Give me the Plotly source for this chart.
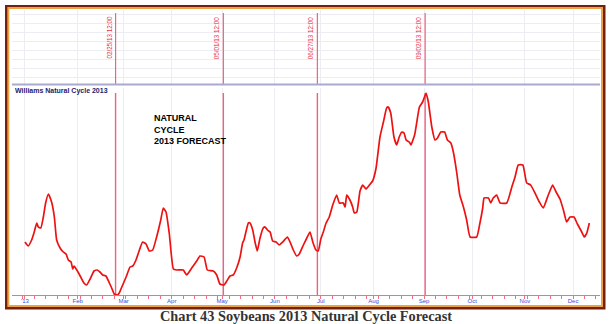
import pandas as pd
import plotly.graph_objects as go

# ---- data ----
# trading-day number counted from 2013-01-01 (weekends skipped), and cycle index value
trading_day = [0, 1.4, 2.9, 3.9, 5.1, 5.8, 6.9, 8.0, 9.0, 10.2, 11.6, 12.8, 13.8, 15.3, 16.7, 17.9,
               18.9, 20.1, 20.8, 21.4, 22.6, 24.3, 25.7, 26.9, 28.4, 30.1, 31.5, 32.7, 33.9, 35.3,
               36.8, 37.8, 38.9, 40.3, 41.1, 42.6, 44.1, 45.8, 47.0, 48.4, 49.9, 51.3, 52.8, 54.2,
               55.7, 57.4, 59.2, 60.3, 61.5, 62.9, 64.7, 66.2, 69.0, 70.5, 72.7, 74.9, 76.3, 78.1,
               79.5, 82.1, 83.6, 85.0, 86.8, 88.0, 89.4, 90.8, 92.3, 93.8, 94.9, 95.5, 97.4, 98.1,
               99.3, 100.3, 101.3, 102.5, 103.9, 104.7, 105.7, 106.9, 108.0, 109.5, 110.9, 112.4,
               114.4, 115.6, 117.0, 118.5, 119.6, 121.4, 122.9, 124.3, 125.5, 126.9, 127.9, 129.0,
               130.1, 131.3, 132.7, 134.2, 135.9, 137.1, 138.8, 139.6, 140.3, 141.7, 142.9, 143.6,
               144.7, 146.1, 147.3, 148.7, 150.2, 151.6, 153.1, 154.8, 156.3, 157.7, 158.4, 159.5,
               160.9, 162.1, 163.2, 164.3, 165.3, 166.2, 167.6, 168.3, 169.9, 170.8, 172.0, 173.4,
               174.9, 175.9, 177.4, 178.8, 179.9, 181.3, 183.0, 184.2, 185.7, 186.8, 188.3, 189.6,
               191.2, 192.6, 194.1, 197.0, 198.4, 199.6, 200.2, 202.1, 203.1, 204.2, 205.7, 207.2,
               210.1, 212.3, 213.7, 215.1, 217.1, 218.8, 220.5, 222.4, 224.3, 226.0, 228.2, 230.1,
               231.6, 233.3, 234.8, 236.2, 237.7, 239.4, 240.9, 242.8, 243.9, 245.0, 246.1]
cycle_value = [53, 49, 55, 62, 72, 68, 67, 78, 92, 101, 93, 78, 55, 47, 43, 41,
               35, 33, 26, 29, 25, 18, 12, 10, 16, 24, 25, 23, 20, 19,
               12, 7, 1, 0, 2, 10, 18, 28, 29, 35, 45, 53, 51, 44,
               45, 58, 75, 87, 83, 62, 26, 25, 25, 20, 27, 34, 39, 38,
               25, 24, 20, 11, 10, 14, 19, 20, 27, 38, 52, 55, 72, 72,
               65, 53, 44, 57, 67, 68, 65, 63, 54, 53, 50, 53,
               58, 53, 45, 39, 41, 50, 57, 63, 53, 45, 44, 56,
               63, 72, 78, 90, 100, 92, 92, 88, 100, 95, 88, 82,
               83, 104, 110, 106, 110, 114, 127, 158, 173, 187, 188, 182,
               158, 150, 158, 163, 162, 155, 153, 150, 160, 172, 188, 193,
               202, 193, 168, 155, 157, 163, 163, 155, 152, 143, 122, 100,
               88, 75, 58, 58, 72, 87, 97, 97, 92, 97, 100, 92,
               92, 108, 118, 130, 130, 112, 110, 102, 93, 87, 100, 110,
               103, 96, 85, 73, 78, 78, 71, 63, 58, 62, 72]

event_dates = ["2013-02-25 12:00", "2013-05-01 12:00", "2013-06-27 12:00", "2013-09-02 12:00"]
event_labels = ["02/25/13 12:00", "05/01/13 12:00", "06/27/13 12:00", "09/02/13 12:00"]

month_ticks = ["2013-01-01", "2013-02-01", "2013-03-01", "2013-04-01", "2013-05-01", "2013-06-03",
               "2013-07-01", "2013-08-01", "2013-09-02", "2013-10-01", "2013-11-01", "2013-12-02"]
month_labels = ["'13", "Feb", "Mar", "Apr", "May", "Jun", "Jul", "Aug", "Sep", "Oct", "Nov", "Dec"]

series_name = "Williams Natural Cycle 2013"
note_text = "NATURAL<br>CYCLE<br>2013 FORECAST"
caption = "Chart 43 Soybeans 2013 Natural Cycle Forecast"

# ---- convert trading-day numbers to dates ----
bdays = pd.bdate_range("2013-01-01", periods=300)
dates = [bdays[int(k)] + pd.Timedelta(days=k - int(k)) for k in trading_day]

W, H = 614, 324
def px(x):
    return x / W
def py(y):
    return 1 - y / H

Y_TOP = 207
EV_COLOR = "#f4607a"

fig = go.Figure()

# event marker lines (lower panel / upper panel)
ev_x, ev_y_low, ev_y_up = [], [], []
for d in event_dates:
    ev_x += [d, d, None]
    ev_y_low += [0, Y_TOP - 5, None]
    ev_y_up += [0.2, 8.1, None]
fig.add_trace(go.Scatter(x=ev_x, y=ev_y_low, mode="lines", line=dict(color=EV_COLOR, width=1.4),
                         xaxis="x", yaxis="y", showlegend=False, hoverinfo="skip"))
fig.add_trace(go.Scatter(x=ev_x, y=ev_y_up, mode="lines", line=dict(color=EV_COLOR, width=1.2),
                         xaxis="x2", yaxis="y2", showlegend=False, hoverinfo="skip"))

fig.add_trace(go.Scatter(x=dates, y=cycle_value, mode="lines",
                         line=dict(color="#ee1111", width=1.7, shape="spline", smoothing=0.4),
                         xaxis="x", yaxis="y", showlegend=False, hoverinfo="skip"))

breaks = [dict(bounds=["sat", "mon"])]
xrange_ = ["2012-12-24 08:00", "2013-12-17 18:00"]
grid_c = "#ececf3"

fig.update_layout(
    width=W, height=H,
    margin=dict(l=0, r=0, t=0, b=0),
    paper_bgcolor="white",
    plot_bgcolor="rgba(0,0,0,0)",
    xaxis=dict(domain=[px(12), px(600)], range=xrange_, type="date", rangebreaks=breaks,
               tickvals=month_ticks, ticktext=month_labels,
               tickfont=dict(family="Liberation Sans, Arial", size=6, color="#3a4ee0"),
               ticks="outside", ticklen=3, tickcolor="#f07088", ticklabelstandoff=-3,
               minor=dict(ticks="outside", ticklen=3, tickcolor="#f07088",
                          dtick=7 * 86400000, tick0="2013-01-07", showgrid=False),
               showline=True, linecolor="#f07088", linewidth=1,
               showgrid=True, gridcolor=grid_c, gridwidth=1, zeroline=False,
               anchor="y", fixedrange=True),
    yaxis=dict(domain=[py(295), py(88)], range=[0, Y_TOP], showgrid=False, showticklabels=False,
               zeroline=False, showline=False, anchor="x"),
    xaxis2=dict(domain=[px(12), px(600)], range=xrange_, type="date", rangebreaks=breaks,
                tickvals=month_ticks, showticklabels=False, ticks="",
                showgrid=True, gridcolor=grid_c, zeroline=False, showline=False,
                anchor="y2", matches="x"),
    yaxis2=dict(domain=[py(86), py(10)], range=[0, 76 / 9], tickvals=[1, 2, 3, 4, 5, 6, 7, 8],
                showticklabels=False, showgrid=True, gridcolor=grid_c, zeroline=False,
                showline=False, anchor="x2"),
)

shapes = [
    dict(type="rect", xref="paper", yref="paper", x0=px(5), x1=px(605.5), y0=py(309.5), y1=py(5),
         fillcolor="#74200a", line=dict(width=0), layer="below"),
    dict(type="rect", xref="paper", yref="paper", x0=px(7.3), x1=px(603), y0=py(307), y1=py(7),
         fillcolor="#eca343", line=dict(width=0), layer="below"),
    dict(type="rect", xref="paper", yref="paper", x0=px(9.3), x1=px(601), y0=py(305), y1=py(9),
         fillcolor="white", line=dict(width=0), layer="below"),
    dict(type="line", xref="paper", yref="paper", x0=px(12), x1=px(600), y0=py(84.5), y1=py(84.5),
         line=dict(color="#aaaad0", width=2)),
]
fig.update_layout(shapes=shapes)

annotations = [
    dict(text="<b>" + series_name + "</b>", xref="paper", yref="paper", x=px(13), y=py(90.5),
         xanchor="left", yanchor="middle", showarrow=False,
         font=dict(family="Liberation Sans, Arial", size=7, color="#22226e")),
    dict(text="<b>" + note_text + "</b>", xref="paper", yref="paper", x=px(152), y=py(110.5),
         xanchor="left", yanchor="top", align="left", showarrow=False,
         font=dict(family="Liberation Sans, Arial", size=9, color="black")),
    dict(text="<b>" + caption + "</b>", xref="paper", yref="paper", x=px(306), y=py(316.3),
         xanchor="center", yanchor="middle", showarrow=False,
         font=dict(family="Liberation Serif, Times New Roman", size=14.3, color="#333333")),
]
for d, lab in zip(event_dates, event_labels):
    annotations.append(dict(text=lab, xref="x", yref="paper", x=d, y=py(14), xanchor="right",
                            yanchor="top", xshift=-1, textangle=-90, showarrow=False,
                            font=dict(family="Liberation Sans, Arial", size=6.3, color="#e83048")))
fig.update_layout(annotations=annotations)

fig.write_html("out.html")
